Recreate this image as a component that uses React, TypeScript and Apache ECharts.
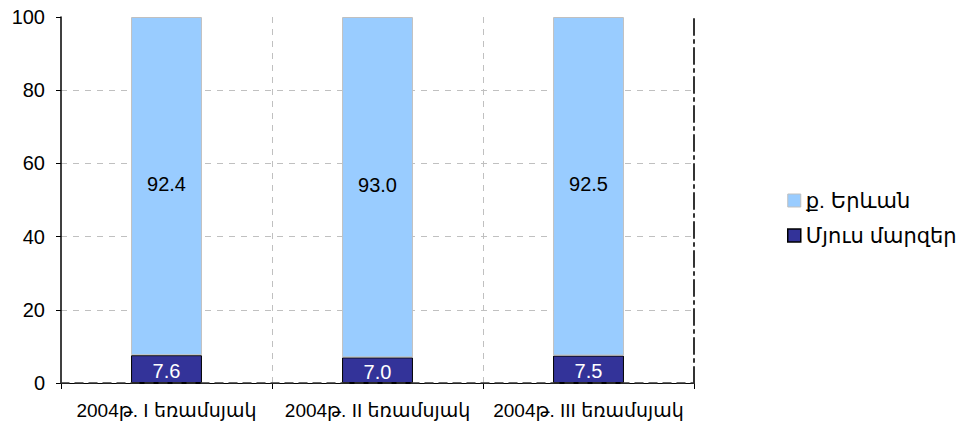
import React, { useEffect, useRef } from "react";
import * as echarts from "echarts";

const categories = ["2004թ. I եռամսյակ", "2004թ. II եռամսյակ", "2004թ. III եռամսյակ"];
const otherRegions = [7.6, 7.0, 7.5];
const yerevan = [92.4, 93.0, 92.5];
const seriesNames = ["ք. Երևան", "Մյուս մարզեր"];

const FONT = "'Liberation Sans', Arial, 'DejaVu Sans', sans-serif";

export default function App() {
  const ref = useRef<HTMLDivElement>(null);
  useEffect(() => {
    if (!ref.current) return;
    const chart = echarts.init(ref.current, null, { renderer: "svg" });
    chart.setOption({
      animation: false,
      textStyle: { fontFamily: FONT },
      grid: { left: 61, right: 279, top: 17, bottom: 42, containLabel: false },
      legend: {
        orient: "vertical",
        left: 782,
        top: 185,
        itemWidth: 13,
        itemHeight: 13,
        itemGap: 14,
        icon: "rect",
        data: [
          { name: seriesNames[0], itemStyle: { color: "#99CCFF", borderColor: "#c0c0c0", borderWidth: 1 } },
          { name: seriesNames[1], itemStyle: { color: "#333399", borderColor: "#000", borderWidth: 1.5 } },
        ],
        textStyle: { fontSize: 21, color: "#000", fontFamily: FONT },
      },
      xAxis: [
        {
          type: "category",
          data: categories,
          axisLine: { lineStyle: { color: "#000", width: 1 } },
          axisTick: { show: true, length: 6, lineStyle: { color: "#000" } },
          axisLabel: { fontSize: 19, color: "#000", margin: 18, interval: 0, fontFamily: FONT },
          splitLine: { show: true, showMaxLine: false, showMinLine: false, lineStyle: { color: "#c0c0c0", type: [6, 6], width: 1 } },
        },
        {
          type: "category",
          data: categories,
          position: "top",
          z: 10,
          axisLine: { show: true, lineStyle: { color: "#333", width: 1.5, type: [8, 6] } },
          axisTick: { show: false },
          axisLabel: { show: false },
          splitLine: { show: false },
        },
      ],
      yAxis: [
        {
          type: "value",
          min: 0,
          max: 100,
          interval: 20,
          axisLine: { show: true, lineStyle: { color: "#000", width: 1.5 } },
          axisTick: { show: true, length: 5, lineStyle: { color: "#000" } },
          axisLabel: { fontSize: 20, color: "#000", margin: 16, fontFamily: FONT },
          splitLine: { show: true, showMaxLine: false, lineStyle: { color: "#c0c0c0", type: [6, 6], width: 1 } },
        },
        {
          type: "value",
          min: 0,
          max: 100,
          interval: 20,
          position: "right",
          z: 10,
          axisLine: { show: true, lineStyle: { color: "#333", width: 2, type: [16, 5, 3, 5] } },
          axisTick: { show: false },
          axisLabel: { show: false },
          splitLine: { show: false },
        },
      ],
      series: [
        {
          name: seriesNames[1],
          type: "bar",
          stack: "total",
          data: otherRegions,
          barWidth: "33.6%",
          itemStyle: { color: "#333399", borderColor: "#000", borderWidth: 1 },
          label: {
            show: true,
            position: "inside",
            color: "#fff",
            fontSize: 20,
            fontFamily: FONT,
            offset: [0, 2],
            formatter: (p: any) => p.value.toFixed(1),
          },
        },
        {
          name: seriesNames[0],
          type: "bar",
          stack: "total",
          data: yerevan,
          barWidth: "33.6%",
          itemStyle: { color: "#99CCFF", borderColor: "#c0c0c0", borderWidth: 1 },
          label: {
            show: true,
            position: "inside",
            color: "#000",
            fontSize: 20,
            fontFamily: FONT,
            offset: [0, -2],
            formatter: (p: any) => p.value.toFixed(1),
          },
        },
      ],
    });
    return () => chart.dispose();
  }, []);
  return <div ref={ref} style={{ width: 973, height: 425, position: "absolute", left: 0, top: 0 }} />;
}
